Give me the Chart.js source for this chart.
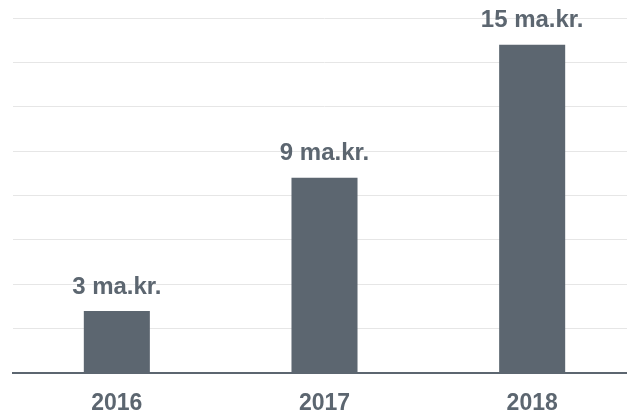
<!DOCTYPE html>
<html>
<head>
<meta charset="utf-8">
<script src="https://cdn.jsdelivr.net/npm/chart.js@4/dist/chart.umd.min.js"></script>
<style>
  html, body { margin: 0; padding: 0; background: #fff; overflow: hidden; }
  #wrap { width: 627px; height: 414px; overflow: hidden; }
  #box { width: 650px; height: 434px; }
</style>
</head>
<body>
<div id="wrap"><div id="box"><canvas id="myChart"></canvas></div></div>
<script>
const years = ['2016', '2017', '2018'];
const amounts = [2.8, 8.8, 14.8];
const amountLabels = ['3 ma.kr.', '9 ma.kr.', '15 ma.kr.'];

const grey = '#5c6670';

// value labels above the bars
const barLabels = {
  id: 'barLabels',
  afterDatasetsDraw(chart) {
    const ctx = chart.ctx;
    const meta = chart.getDatasetMeta(0);
    ctx.save();
    ctx.font = 'bold 24px "Liberation Sans", Arial, sans-serif';
    ctx.fillStyle = grey;
    ctx.textAlign = 'center';
    ctx.textBaseline = 'middle';
    meta.data.forEach((bar, i) => {
      ctx.fillText(amountLabels[i], bar.x, bar.y - 24);
    });
    ctx.restore();
  }
};

new Chart(document.getElementById('myChart'), {
  type: 'bar',
  data: {
    labels: years,
    datasets: [{
      data: amounts,
      backgroundColor: grey,
      borderWidth: 0,
      categoryPercentage: 1,
      barPercentage: 0.318
    }]
  },
  options: {
    responsive: true,
    maintainAspectRatio: false,
    animation: false,
    layout: { padding: { left: 13, right: 14, top: 18, bottom: 0 } },
    plugins: { legend: { display: false }, tooltip: { enabled: false } },
    scales: {
      x: {
        grid: { display: false, drawTicks: false },
        border: { display: true, color: grey, width: 2 },
        ticks: {
          color: grey,
          padding: 19,
          font: { family: '"Liberation Sans", Arial, sans-serif', size: 23, weight: 'bold', lineHeight: 1 }
        }
      },
      y: {
        min: 0,
        max: 16,
        ticks: { display: false, stepSize: 2 },
        grid: { color: '#e6e6e6', lineWidth: 1, drawTicks: false },
        border: { display: false }
      }
    }
  },
  plugins: [barLabels]
});
</script>
</body>
</html>
